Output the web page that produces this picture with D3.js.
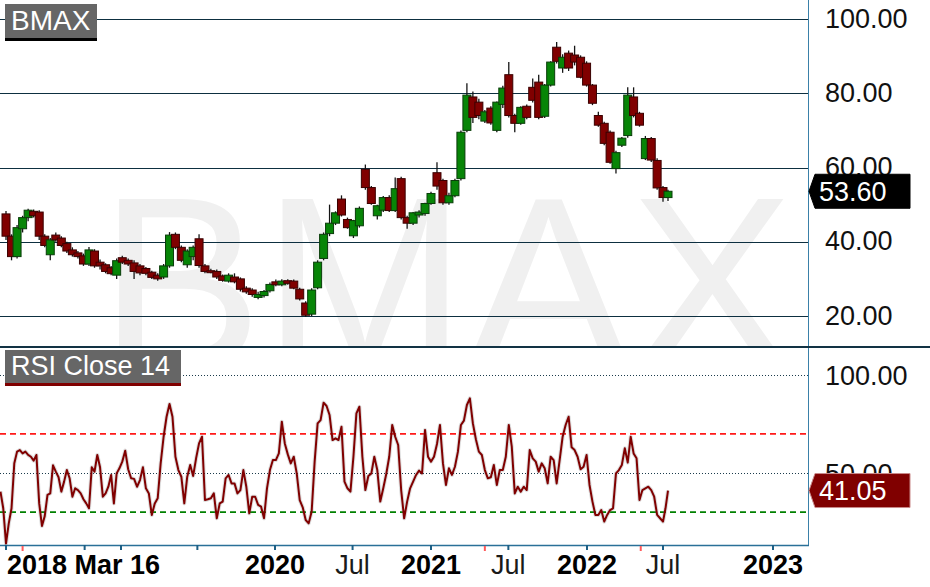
<!DOCTYPE html>
<html>
<head>
<meta charset="utf-8">
<script src="https://cdn.jsdelivr.net/npm/d3@7"></script>
<style>
  html, body { margin: 0; padding: 0; background: #fff; }
  svg { display: block; font-family: "Liberation Sans", Arial, sans-serif; }
</style>
</head>
<body>
<svg id="chart" width="930" height="587"></svg>
<script>
const symbol   = 'BMAX';
const rsiTitle = 'RSI Close 14';

// biweekly candles from 2018-03-16, [open, high, low, close]
const candleStart = '2018-03-16';
const bars = [
  [47.5,48.3,40.5,41.5],[41.5,42,35,36],[36,44.5,35.5,43.8],[43.5,47,42.5,46.5],[46.5,48.9,45.5,48.5],
  [48.2,48.7,46.5,47],[48,48.5,40.5,41.5],[41.5,42,38.5,39],[36.5,41,35,40.5],[41.8,42.5,40,40.5],
  [41,41.5,38.5,39],[39.5,40,37,37.5],[37.8,38.5,36,36.5],[37,37.5,35.5,36],[36.2,36.8,33.5,34],
  [34,38.6,33.5,37.8],[37.5,38,33,33.5],[34.5,35.2,32.5,33.5],[33.8,34.2,31.5,32],[33,33.5,31,31.4],
  [31,35.5,30,34.9],[35.7,36.2,34,34.5],[35,35.5,33.5,34],[34.3,35,30,32],[33.5,34,31,31.6],
  [32.8,33.2,31,31.5],[31.8,32.2,30,30.4],[31,31.5,29.5,30],[30.5,34,30,33.5],[33.5,42.6,33,41.8],
  [42,42.5,38,38.5],[38.5,39,34.5,35],[33.8,38,33,37.5],[36,39,35,38.5],[40.8,42,33,33.6],
  [33.5,34,31.5,32],[32.2,32.7,31.5,31.8],[32,32.5,30,30.5],[30.8,31.2,29.2,29.6],[29.4,31.5,29,31],
  [30.5,31.5,28.8,29.2],[30,30.4,26.6,27.2],[27.5,28,26,26.5],[27,27.5,25.2,25.8],[25,26.5,24.5,25.8],
  [25.5,27,25,26.6],[26.8,29,26.3,28.5],[29.2,29.8,28,28.4],[28.4,29.9,28,29.4],[29.5,29.9,28.4,28.8],
  [29.4,29.8,27.2,27.5],[27.2,27.6,24.2,24.6],[23.5,24,19.7,20.2],[20.5,27.5,20,27],[27.6,35,27.2,34.5],
  [35.5,42.5,35,42],[42.2,50,41.5,45],[45,48.2,44.5,47.8],[51.5,52.5,46.8,47.2],[46,46.5,43.5,43.8],
  [41.6,45.9,41,45.7],[44.3,49.5,43.8,49],[59.5,60.8,54,54.6],[54.6,55,50,50.3],[47,50,46,49.7],
  [48.5,52.3,48,51.9],[51.9,52.5,48,48.4],[48.4,57.3,48,54.3],[57,57.5,46,46.5],[46.5,47,43.5,45],
  [45,48,44.5,47.8],[47.2,48.5,46.5,48],[47.6,50.5,47,50.3],[50.3,53.5,50,53],[58.6,61.4,54,55],
  [56.5,57,50,50.5],[50.5,53.2,50,52.4],[52.4,57,52,56.5],[57,70,56.5,69.5],[70,82.7,69.5,79.5],
  [79,80.5,72,73.5],[77.6,78.5,73,74],[72.5,75.5,72,75],[76,76.5,71.5,72],[70,77.8,69.5,77.6],
  [77,82,76,81.4],[85,88.4,73.5,74],[74,74.5,69.5,71.9],[71.9,76.5,71.5,76.2],[76.5,77,73,73.5],
  [81.6,84,77.5,78.1],[83,85,73,73.5],[73.8,82.5,73.3,82.2],[82.2,88.6,81.8,88.4],[92.4,93.8,88,88.6],
  [86.8,90.5,85.5,89.7],[90.8,91.5,86,86.8],[90.3,92.8,87.5,88.4],[89.7,90.2,84,84.3],[88.1,88.6,81.8,82.2],
  [82.2,82.5,76.8,77.3],[74,75,71,71.4],[71.9,72.3,66,66.5],[69.5,70,61,61.4],[59.7,64.5,58.4,64],
  [66,68.2,65.5,67.9],[68.6,81.6,68,79.5],[79,81.6,73.5,74],[74.6,75,71,71.4],[62.4,68.5,62,67.8],
  [67.8,68.2,61.5,62],[61.9,62.5,54,54.5],[54.6,55,50.8,51.9],[51.9,54,51,53.6]
];

// weekly RSI(14) from 2018-03-02
const rsiStart = '2018-03-02';
const rsi = [
  40.5,32,14,24.3,32,55,60.9,61.7,60,60.9,59.2,58.3,56.3,59.2,34.5,23,28,38.8,39.6,53.9,
  50.7,47.8,40.5,45.6,51.5,47.3,37.9,42.2,41.3,39.6,36.6,34.5,32,52.9,50.7,59.2,52.9,37.9,39.6,43,
  49,34.5,49.8,52.4,55.8,61.4,51.9,47.3,47,43,46.4,52.9,42.2,39.6,28.6,34.5,37.1,54.9,68.5,78.7,
  85.2,78.7,58.3,51.5,48.1,34.5,48.1,54.1,48.5,57.5,65.1,68.5,36.2,36.6,37.1,39.6,26.9,34.5,35.4,47.3,
  49,44.7,44.7,39.6,41.3,51.5,43,29.4,37.9,37.9,33.7,32.8,26.9,42.2,51.5,56.6,56.6,60,76.2,65.1,
  59.5,54.9,58.3,49.8,36.2,32.5,26,24.3,30.3,55.8,75.3,77,85.9,84.2,79.6,66.8,67.7,66.8,73.6,45.6,
  42.2,40.5,58.3,80.4,83.8,58.3,41.3,48.5,49.8,58.3,51.5,35.4,42.2,49.5,58.3,74.5,68.5,64.3,41.3,26.9,
  35.4,42.2,45.6,49,51.2,49.8,72,58.3,55.8,58.3,64.8,74.5,54.9,43.9,52.4,49,53.2,60.9,74.5,76.7,
  84.7,88.1,75.3,67.2,60.9,59.2,51.5,47.3,47.8,54.1,43.9,51.5,51.5,58.3,74.5,63.4,39.6,43,40.5,43,
  41.3,61.7,57.5,55.8,50.7,54.9,52.4,44.7,58.3,56.6,44.7,56.6,68.5,74.5,78.7,63.1,61.7,58.3,51.9,53.2,
  59.2,43.9,35.4,28.6,28.6,31.1,25.2,28.6,31.1,32,49.8,51.5,54.1,62.6,55.3,68.5,60,57.5,36.2,41.3,
  42.2,43,41.3,37.9,28.6,26.9,25.2,32,41.05
];

const priceTicks = [20, 40, 60, 80, 100];
const rsiGrid    = [50, 100];
const rsiBands   = [[70, '#ff1a1a'], [30, '#008000']];
const xTicks = [
  ['2018-03-16', '2018 Mar 16', true], ['2018-10-01', '', false], ['2019-01-01', '', false],
  ['2019-07-01', '', false], ['2020-01-01', '2020', true], ['2020-07-01', 'Jul', false],
  ['2021-01-01', '2021', true], ['2021-07-01', 'Jul', false], ['2022-01-01', '2022', true],
  ['2022-07-01', 'Jul', false], ['2023-01-01', '2023', true]
];
const eventDays = ['2018-04-27', '2021-05-07', '2022-05-09'];
const lastPrice = 53.60, lastRsi = 41.05;

// axis compresses the past (trading days) and spaces the future by calendar
const knotDays = ['2018-03-16', '2019-01-01', '2020-01-01', '2021-01-01', '2022-01-01', '2022-07-01', '2022-07-15', '2023-01-01'];
const knotPx   = [6, 121, 275, 431, 587, 663, 668, 773];

const parse = d3.timeParse('%Y-%m-%d');
const R = 808, SEP = 347, BOT = 545;

const svg = d3.select('#chart');
const x  = d3.scaleTime().domain(knotDays.map(parse)).range(knotPx);
const y  = d3.scaleLinear().domain([20, 100]).range([316, 19]);
const yr = d3.scaleLinear().domain([50, 100]).range([473, 375]);

const candles = bars.map((b, i) => ({ date: d3.timeDay.offset(parse(candleStart), 14 * i), o: b[0], h: b[1], l: b[2], c: b[3] }));
const rsiPts  = rsi.map((v, i) => ({ date: d3.timeDay.offset(parse(rsiStart), 7 * i), v }));

const defs = svg.append('defs');
defs.append('clipPath').attr('id', 'clipMain').append('rect').attr('x', 0).attr('y', 0).attr('width', R).attr('height', SEP);
defs.append('clipPath').attr('id', 'clipRsi').append('rect').attr('x', 0).attr('y', SEP + 1).attr('width', R).attr('height', BOT - SEP - 1);

// watermark
svg.append('text').attr('clip-path', 'url(#clipMain)')
  .attr('x', 99).attr('y', 368).attr('font-size', 245).attr('fill', '#f0f0f0').text(symbol);

// price grid
svg.append('g').selectAll('line').data(priceTicks).join('line')
  .attr('x1', 0).attr('x2', R).attr('y1', d => Math.round(y(d)) + 0.5).attr('y2', d => Math.round(y(d)) + 0.5)
  .attr('stroke', '#0d2f40').attr('stroke-width', 1);

// candles
const cg = svg.append('g').attr('clip-path', 'url(#clipMain)');
candles.forEach(d => {
  const up = d.c >= d.o, cx = x(d.date);
  cg.append('line').attr('x1', cx).attr('x2', cx).attr('y1', y(d.h)).attr('y2', y(d.l))
    .attr('stroke', '#151515').attr('stroke-width', 1.3);
  cg.append('rect').attr('x', cx - 4).attr('width', 8)
    .attr('y', y(Math.max(d.o, d.c))).attr('height', Math.max(2, Math.abs(y(d.o) - y(d.c))))
    .attr('fill', up ? '#078507' : '#800000').attr('stroke', up ? '#0a3d0a' : '#3a0000').attr('stroke-width', 1);
});

// rsi grid & bands
svg.append('g').selectAll('line').data(rsiGrid).join('line')
  .attr('x1', 0).attr('x2', R).attr('y1', d => Math.round(yr(d)) + 0.5).attr('y2', d => Math.round(yr(d)) + 0.5)
  .attr('stroke', '#1b3b4c').attr('stroke-dasharray', '1,2');
svg.append('g').selectAll('line').data(rsiBands).join('line')
  .attr('x1', 0).attr('x2', R).attr('y1', d => yr(d[0])).attr('y2', d => yr(d[0]))
  .attr('stroke', d => d[1]).attr('stroke-width', 1.7).attr('stroke-dasharray', '6,4');

const rg = svg.append('g').attr('clip-path', 'url(#clipRsi)');
const line = d3.line().x(d => x(d.date)).y(d => yr(d.v));
rg.append('path').datum(rsiPts).attr('d', line).attr('fill', 'none')
  .attr('stroke', 'rgba(120,120,120,0.25)').attr('stroke-width', 4).attr('stroke-linejoin', 'round');
rg.append('path').datum(rsiPts).attr('d', line).attr('fill', 'none')
  .attr('stroke', '#800000').attr('stroke-width', 2).attr('stroke-linejoin', 'round');

// frame
svg.append('line').attr('x1', R + 0.5).attr('x2', R + 0.5).attr('y1', 0).attr('y2', BOT + 1).attr('stroke', '#3a80a8');
svg.append('line').attr('x1', 0).attr('x2', R + 1).attr('y1', BOT + 0.5).attr('y2', BOT + 0.5).attr('stroke', '#2a7098').attr('stroke-width', 1.5);
svg.append('line').attr('x1', 0).attr('x2', 930).attr('y1', SEP).attr('y2', SEP).attr('stroke', '#123344').attr('stroke-width', 2);

// x axis
const xa = svg.append('g');
xa.selectAll('line.tick').data(xTicks).join('line').attr('class', 'tick')
  .attr('x1', d => x(parse(d[0]))).attr('x2', d => x(parse(d[0]))).attr('y1', BOT).attr('y2', BOT + 5)
  .attr('stroke', '#1d5f85').attr('stroke-width', 2);
xa.selectAll('line.ev').data(eventDays).join('line').attr('class', 'ev')
  .attr('x1', d => x(parse(d))).attr('x2', d => x(parse(d))).attr('y1', BOT + 1).attr('y2', BOT + 6)
  .attr('stroke', '#ff5a5a').attr('stroke-width', 2);
xa.selectAll('text').data(xTicks.filter(d => d[1])).join('text')
  .attr('x', (d, i) => i === 0 ? x(parse(d[0])) + 1 : x(parse(d[0])))
  .attr('y', 574).attr('text-anchor', (d, i) => i === 0 ? 'start' : 'middle')
  .attr('font-size', 27).attr('font-weight', d => d[2] ? 'bold' : 'normal')
  .attr('fill', d => d[2] ? '#000' : '#1a1a1a').text(d => d[1]);

// right axes
const fmt = d3.format('.2f');
svg.append('g').selectAll('text').data(priceTicks).join('text')
  .attr('x', 825).attr('y', d => y(d) + 8.5).attr('font-size', 27).attr('fill', '#111').text(fmt);
svg.append('g').selectAll('text').data(rsiGrid).join('text')
  .attr('x', 825).attr('y', d => yr(d) + 9.5).attr('font-size', 27).attr('fill', '#111').text(fmt);

function valueTag(cy, fill, stroke, label) {
  const h = 17;
  svg.append('path')
    .attr('d', `M${R + 1},${cy} L${R + 7},${cy - h} L910,${cy - h} L910,${cy + h} L${R + 7},${cy + h} Z`)
    .attr('fill', fill).attr('stroke', stroke).attr('stroke-width', 1);
  svg.append('text').attr('x', 819).attr('y', cy + 9.5).attr('font-size', 27).attr('fill', '#fff').text(label);
}
valueTag(y(lastPrice), '#000', '#000', fmt(lastPrice));
valueTag(yr(lastRsi), '#800000', '#c98a8a', fmt(lastRsi));

// panel titles
function titleBox(bx, by, w, h, bar, label, fs) {
  svg.append('rect').attr('x', bx).attr('y', by).attr('width', w).attr('height', h).attr('fill', '#666');
  svg.append('rect').attr('x', bx).attr('y', by + h).attr('width', w).attr('height', 3).attr('fill', bar);
  svg.append('text').attr('x', bx + 6).attr('y', by + h - 8).attr('font-size', fs).attr('fill', '#fff').text(label);
}
titleBox(5, 4, 92, 34, '#000', symbol, 28);
titleBox(5, 350, 176, 33, '#800000', rsiTitle, 27);
</script>
</body>
</html>
